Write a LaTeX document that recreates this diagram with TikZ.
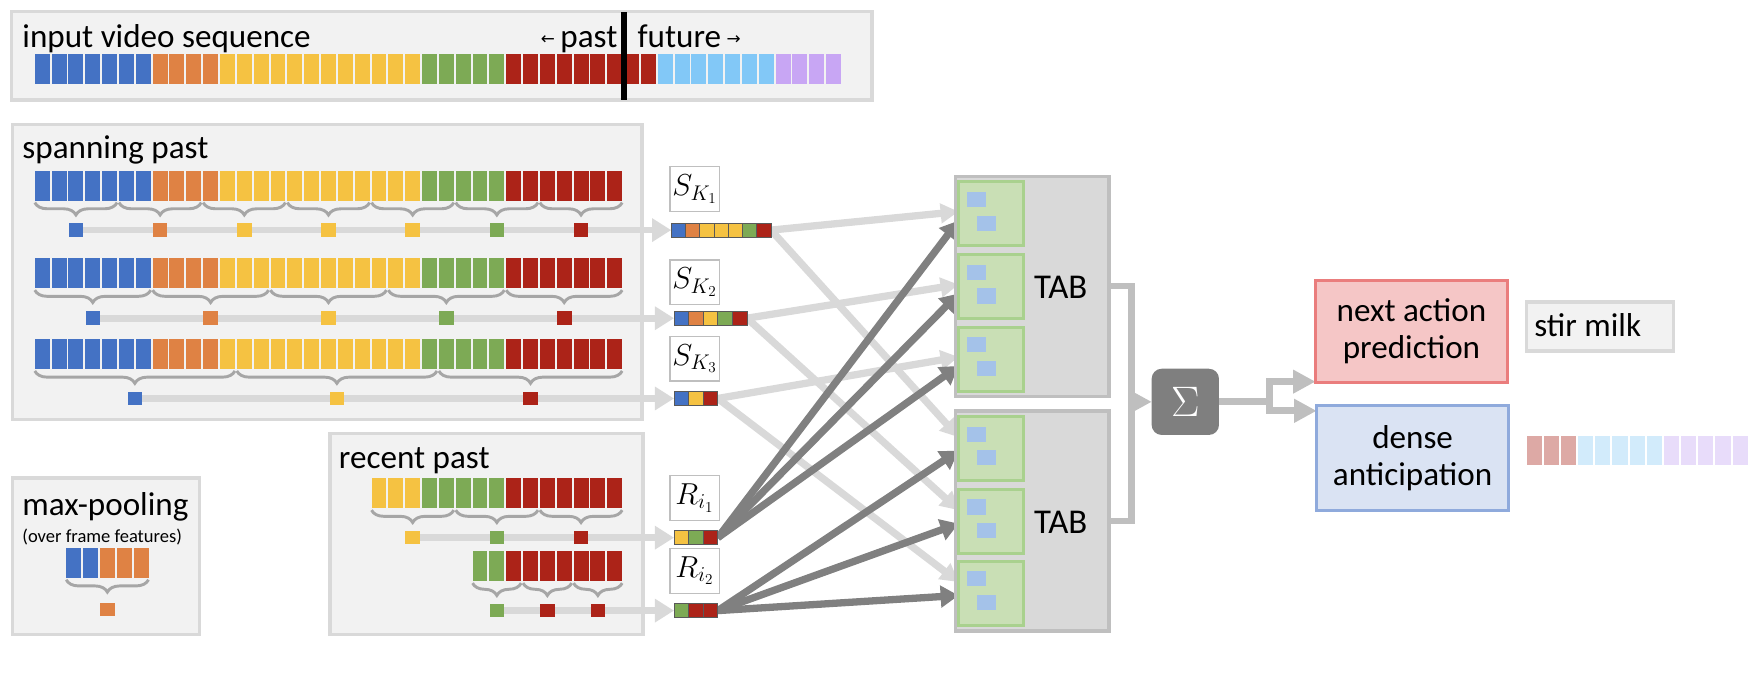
\RequirePackage{fix-cm}
\documentclass[tikz,border=0pt]{standalone}
\usepackage{fontspec}
\setmainfont{Carlito}
\newfontfamily\djv{DejaVu Sans}
\usetikzlibrary{arrows.meta,decorations.pathreplacing,calc}
\definecolor{cB}{HTML}{4472C4}
\definecolor{cO}{HTML}{DF8244}
\definecolor{cY}{HTML}{F5C242}
\definecolor{cG}{HTML}{7DAA55}
\definecolor{cR}{HTML}{AC2318}
\definecolor{cLB}{HTML}{82C8F7}
\definecolor{cP}{HTML}{C8A6F4}
\definecolor{cRf}{HTML}{DDA9A5}
\definecolor{cLBf}{HTML}{D2EBFB}
\definecolor{cPf}{HTML}{E8DCFA}
\definecolor{boxfill}{HTML}{F2F2F2}
\definecolor{boxline}{HTML}{D9D9D9}
\definecolor{bracec}{HTML}{A6A6A6}
\definecolor{lineg}{HTML}{D9D9D9}
\definecolor{darkg}{HTML}{808080}
\definecolor{tabfill}{HTML}{D9D9D9}
\definecolor{tabline}{HTML}{BFBFBF}
\definecolor{greenf}{HTML}{C9DFB5}
\definecolor{greenl}{HTML}{A9D18E}
\definecolor{bsq}{HTML}{A4C2E9}
\definecolor{sigf}{HTML}{7F7F7F}
\definecolor{outg}{HTML}{BFBFBF}
\definecolor{naf}{HTML}{F5C6C6}
\definecolor{nal}{HTML}{EA7D7D}
\definecolor{daf}{HTML}{DAE3F3}
\definecolor{dal}{HTML}{8FAADC}
\definecolor{lblline}{HTML}{BFBFBF}
\definecolor{celll}{HTML}{595959}
\pgfdeclarelayer{boxes}
\pgfdeclarelayer{lines}
\pgfsetlayers{boxes,lines,main}
\def\pastlist{cB,cB,cB,cB,cB,cB,cB,cO,cO,cO,cO,cY,cY,cY,cY,cY,cY,cY,cY,cY,cY,cY,cY,cG,cG,cG,cG,cG,cR,cR,cR,cR,cR,cR,cR}
\def\futlist{cR,cR,cLB,cLB,cLB,cLB,cLB,cLB,cLB,cP,cP,cP,cP}
\def\reconelist{cY,cY,cY,cG,cG,cG,cG,cG,cR,cR,cR,cR,cR,cR,cR}
\def\rectwolist{cG,cG,cR,cR,cR,cR,cR,cR,cR}
\def\maxlist{cB,cB,cO,cO,cO}
\def\denselist{cRf,cRf,cRf,cLBf,cLBf,cLBf,cLBf,cLBf,cPf,cPf,cPf,cPf,cPf}
\newcommand\frmrow[3]{\foreach \cc [count=\ii from 0] in #3 {\fill[\cc] ({#1+\ii*15},#2) rectangle ++(13.3,27);}}
\newcommand\stripcells[4]{\foreach \cc [count=\ii from 0] in #4 {\filldraw[fill=\cc, draw=celll, line width=0.7pt] ({#1+\ii*#3},{#2-6.4}) rectangle ++(#3,12.8);}}
\tikzset{
  panel/.style={fill=boxfill, draw=boxline, line width=3pt, inner sep=0pt},
  ttl/.style={font=\fontsize{29.5}{34}\selectfont, inner sep=0pt},
  brc/.style={draw=bracec, line width=2.6pt, decorate, decoration={brace, mirror, amplitude=11pt}},
  rowarrow/.style={draw=lineg, line width=6pt, -{Triangle[length=17pt,width=20pt]}},
  pool/.style={minimum width=13pt, minimum height=12pt, inner sep=0pt},
  lbl/.style={draw=lblline, fill=white, line width=1.2pt, minimum width=44pt, minimum height=40pt, inner sep=0pt, font=\fontsize{27}{27}\selectfont},
  strip/.style={inner sep=0pt, minimum height=12.8pt},
  lconn/.style={draw=lineg, line width=6.5pt, -{Triangle[length=16pt,width=17pt]}},
  dconn/.style={draw=darkg, line width=6.5pt, -{Triangle[length=16pt,width=19pt]}},
  tabbox/.style={fill=tabfill, draw=tabline, line width=3pt, minimum width=137pt, minimum height=196pt, inner sep=0pt},
  gbox/.style={fill=greenf, draw=greenl, line width=2.5pt, minimum width=58pt, minimum height=57pt, inner sep=0pt},
  tabtxt/.style={font=\fontsize{31}{31}\selectfont, inner sep=0pt},
  elbow/.style={draw=outg, line width=5.5pt},
  elbowarrow/.style={draw=outg, line width=5.5pt, -{Triangle[length=15pt,width=15pt]}},
  outline/.style={draw=outg, line width=6pt},
  outarrow/.style={draw=outg, line width=6pt, -{Triangle[length=20pt,width=20pt]}},
  resbox/.style={line width=3pt, minimum width=171pt, inner sep=0pt, align=center, font=\fontsize{29.5}{33}\selectfont}
}
\begin{document}
\begin{tikzpicture}[x=1pt,y=-1pt, every node/.append style={outer sep=0pt}]
\useasboundingbox (0,0) rectangle (1568,623.6);
% ---------- panels ----------
\begin{pgfonlayer}{boxes}
\node[panel, minimum width=767pt, minimum height=79pt, anchor=north west] (topbox) at (10,10) {};
\node[panel, minimum width=561pt, minimum height=263pt, anchor=north west] (spanbox) at (11,111) {};
\node[panel, minimum width=279pt, minimum height=179pt, anchor=north west] (recbox) at (294,386) {};
\node[panel, minimum width=167pt, minimum height=139pt, anchor=north west] (maxbox) at (11,426) {};
\node[panel, minimum width=131pt, minimum height=43.5pt] (sm) at (1425.5,290.8) {};
\end{pgfonlayer}
% ---------- titles ----------
\node[ttl, anchor=base west] (t1) at (20,42) {input video sequence};
\node[ttl, anchor=base east] (tpast) at (550,42) {\raisebox{2pt}{\djv\fontsize{15}{15}\selectfont ←}\,past};
\node[ttl, anchor=base west] (tfut) at (568,42) {future\,\raisebox{2pt}{\djv\fontsize{15}{15}\selectfont →}};
\node[ttl, anchor=base west] (t2) at (20,141) {spanning past};
\node[ttl, anchor=base west] (t3) at (302,417) {recent past};
\node[ttl, anchor=base west] (t4) at (20,459) {max-pooling};
\node[inner sep=0pt, anchor=base west, font=\fontsize{16.5}{18}\selectfont] (t5) at (20,483) {(over frame features)};
\node[ttl, anchor=base west] (smt) at (1367,300) {stir milk};
% ---------- input sequence ----------
\frmrow{31}{48}{\pastlist}
\frmrow{556}{48}{\futlist}
\draw[line width=5pt, black] (556,11) -- (556,89);
% ---------- spanning row 1 ----------
\frmrow{31}{152}{\pastlist}
\foreach \k in {0,...,6} {\draw[brc] ({31+75*\k},180.5) -- ({31+75*\k+73.3},180.5);}
\foreach \cc [count=\ii from 0] in {cB,cO,cY,cY,cY,cG,cR} {\node[pool, fill=\cc] (ra\ii) at ({67.7+75*\ii},205) {};}
% ---------- spanning row 2 ----------
\frmrow{31}{230}{\pastlist}
\foreach \k in {0,...,4} {\draw[brc] ({31+105*\k},258.5) -- ({31+105*\k+103.3},258.5);}
\foreach \cc [count=\ii from 0] in {cB,cO,cY,cG,cR} {\node[pool, fill=\cc] (rb\ii) at ({82.7+105*\ii},283.5) {};}
% ---------- spanning row 3 ----------
\frmrow{31}{302}{\pastlist}
\draw[brc] (31,330.5) -- (209.3,330.5);
\draw[brc] (211,330.5) -- (389.3,330.5);
\draw[brc] (391,330.5) -- (554.3,330.5);
\node[pool, fill=cB] (rc0) at (120.2,355) {};
\node[pool, fill=cY] (rc1) at (300.2,355) {};
\node[pool, fill=cR] (rc2) at (472.7,355) {};
% ---------- recent rows ----------
\frmrow{331}{426}{\reconelist}
\foreach \k in {0,1,2} {\draw[brc] ({331+75*\k},454.5) -- ({331+75*\k+73.3},454.5);}
\foreach \cc [count=\ii from 0] in {cY,cG,cR} {\node[pool, fill=\cc] (rd\ii) at ({367.7+75*\ii},479) {};}
\frmrow{421}{491}{\rectwolist}
\foreach \k in {0,1,2} {\draw[brc] ({421+45*\k},519.5) -- ({421+45*\k+43.3},519.5);}
\foreach \cc [count=\ii from 0] in {cG,cR,cR} {\node[pool, fill=\cc] (re\ii) at ({442.7+45*\ii},544) {};}
% ---------- max pooling ----------
\frmrow{59}{488}{\maxlist}
\draw[brc] (59,516.5) -- (132.3,516.5);
\node[pool, fill=cO] (mp0) at (95.7,543) {};
% ---------- labels and strips ----------
\node[lbl] (lk1) at (618.8,168.5) {$S_{K_1}$};
\node[lbl] (lk2) at (618.8,251.5) {$S_{K_2}$};
\node[lbl] (lk3) at (618.8,319.5) {$S_{K_3}$};
\node[lbl] (lr1) at (618.8,443.5) {$R_{i_1}$};
\node[lbl] (lr2) at (618.8,508.5) {$R_{i_2}$};
\node[strip, minimum width=88.9pt, anchor=west] (sk1) at (598,205) {};
\node[strip, minimum width=65pt, anchor=west] (sk2) at (600.5,283.5) {};
\node[strip, minimum width=39pt, anchor=west] (sk3) at (600.5,355) {};
\node[strip, minimum width=39pt, anchor=west] (ri1) at (600.5,479) {};
\node[strip, minimum width=39pt, anchor=west] (ri2) at (600.5,544) {};
\stripcells{598}{205}{12.7}{{cB,cO,cY,cY,cY,cG,cR}}
\stripcells{600.5}{283.5}{13}{{cB,cO,cY,cG,cR}}
\stripcells{600.5}{355}{13}{{cB,cY,cR}}
\stripcells{600.5}{479}{13}{{cY,cG,cR}}
\stripcells{600.5}{544}{13}{{cG,cR,cR}}
% ---------- TAB blocks ----------
\node[tabbox] (tab1) at (919.5,255) {};
\node[tabbox] (tab2) at (919.5,464) {};
\node[tabtxt] (tabt1) at (945,256) {TAB};
\node[tabtxt] (tabt2) at (945,465) {TAB};
\foreach \yy [count=\ii] in {190.5,255.5,320} {\node[gbox] (ga\ii) at (883,\yy) {};
  \fill[bsq] (861.5,{\yy-19.5}) rectangle ++(16.5,13.4);
  \fill[bsq] (870,{\yy+1.5}) rectangle ++(17,13.5);}
\foreach \yy [count=\ii] in {399.5,464.5,528.5} {\node[gbox] (gb\ii) at (883,\yy) {};
  \fill[bsq] (861.5,{\yy-19.5}) rectangle ++(16.5,13.4);
  \fill[bsq] (870,{\yy+1.5}) rectangle ++(17,13.5);}
\foreach \ii in {1,2,3} {
  \coordinate (la\ii) at ($(ga\ii.west)+(0,-2)$);
  \coordinate (da\ii) at ($(ga\ii.west)+(0,6)$);
  \coordinate (lb\ii) at ($(gb\ii.west)+(0,-10)$);
  \coordinate (db\ii) at ($(gb\ii.west)+(0,2)$);}
% ---------- sum and outputs ----------
\node[fill=sigf, rounded corners=9pt, minimum width=60pt, minimum height=59pt, inner sep=0pt, text=white, font=\fontsize{38}{38}\selectfont] (sig) at (1056,358) {$\Sigma$};
\coordinate (jn) at (1008,358);
\node[resbox, fill=naf, draw=nal, minimum height=91pt] (na) at (1257.5,295.5) {next action\\prediction};
\node[resbox, fill=daf, draw=dal, minimum height=94pt] (da) at (1258.5,408) {dense\\anticipation};
\foreach \cc [count=\ii from 0] in \denselist {\fill[\cc] ({1360+\ii*15.3},388) rectangle ++(13.5,26);}
\coordinate (fk) at (1131,358);
\coordinate (fk1) at (1131,340);
\coordinate (fk2) at (1131,366);
% ---------- connectors ----------
\begin{pgfonlayer}{lines}
\draw[rowarrow] (ra0.center) -- (sk1.west);
\draw[rowarrow] (rb0.center) -- (sk2.west);
\draw[rowarrow] (rc0.center) -- (sk3.west);
\draw[rowarrow] (rd0.center) -- (ri1.west);
\draw[rowarrow] (re0.center) -- (ri2.west);
\draw[lconn] (sk1.east) -- (la1);
\draw[lconn] (sk2.east) -- (la2);
\draw[lconn] (sk3.east) -- (la3);
\draw[lconn] (sk1.east) -- (lb1);
\draw[lconn] (sk2.east) -- (lb2);
\draw[lconn] (sk3.east) -- (lb3);
\draw[dconn] (ri1.east) -- (da1);
\draw[dconn] (ri1.east) -- (da2);
\draw[dconn] (ri1.east) -- (da3);
\draw[dconn] (ri2.east) -- (db1);
\draw[dconn] (ri2.east) -- (db2);
\draw[dconn] (ri2.east) -- (db3);
\draw[elbow] (tab1.east) -| (jn) |- (tab2.east);
\draw[elbowarrow] (jn) -- (sig.west);
\draw[outline] (sig.east) -- (fk);
\draw[outline, line cap=rect] (fk1) -- (fk2);
\draw[outarrow] (fk1) -- (fk1 -| na.west);
\draw[outarrow] (fk2) -- (fk2 -| da.west);
\end{pgfonlayer}
\end{tikzpicture}
\end{document}
